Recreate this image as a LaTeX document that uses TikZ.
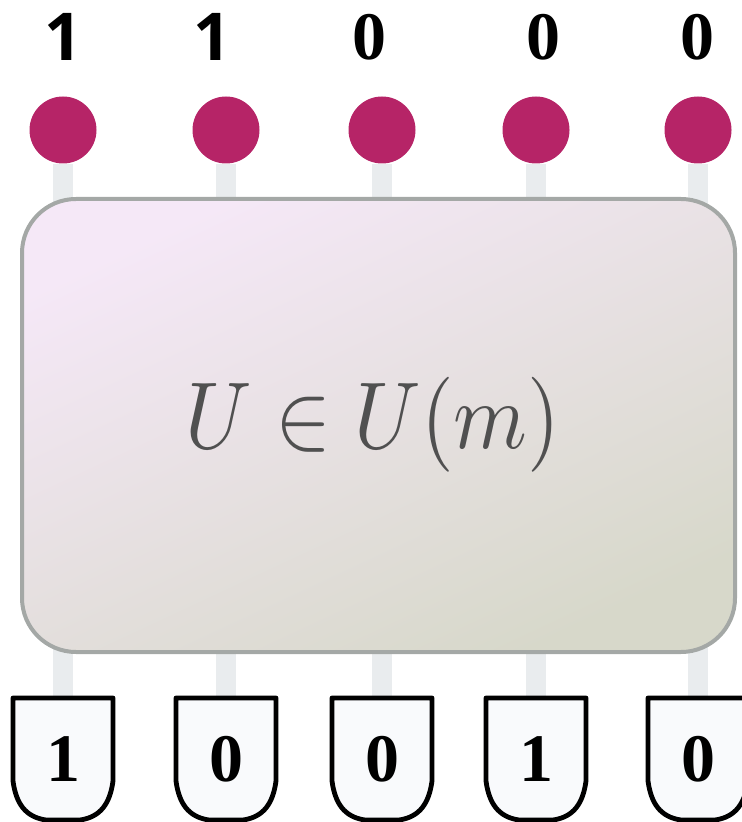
\documentclass[tikz,border=0pt]{standalone}
\usepackage{fontspec}
\newfontfamily\digitsans{Open Sans}
\newfontfamily\digitserif{Liberation Serif}
\usepackage{tikz}
\usetikzlibrary{positioning}

\definecolor{photon}{RGB}{182,36,103}
\definecolor{wiregray}{RGB}{233,236,238}
\definecolor{rimgray}{RGB}{164,168,166}
\definecolor{topshade}{RGB}{245,232,247}
\definecolor{botshade}{RGB}{215,216,202}
\definecolor{textgray}{RGB}{80,80,80}
\definecolor{detfill}{RGB}{249,250,252}

\pgfdeclarelayer{wirelayer}
\pgfdeclarelayer{detlayer}
\pgfsetlayers{wirelayer,detlayer,main}

\begin{document}
\begin{tikzpicture}[
    x=0.5pt, y=-0.5pt,
    source/.style={circle, fill=photon, minimum size=33.5pt, inner sep=0pt},
    unitary/.style={rectangle, rounded corners=27pt, draw=rimgray, line width=2pt, top color=topshade, bottom color=botshade, shading angle=25, minimum width=356.5pt, minimum height=226.5pt},
    eqlabel/.style={text=textgray, inner sep=0pt, xscale=4.2, yscale=4.75},
    detector/.style={minimum width=50pt, minimum height=61pt, inner sep=0pt, font=\digitserif\bfseries\fontsize{34}{36}\selectfont},
    detline/.style={draw=black, fill=detfill, line width=2.4pt, line join=round},
    inlabel/.style={font=\digitserif\bfseries\fontsize{34}{36}\selectfont},
    wire/.style={draw=wiregray, line width=10pt},
]
\useasboundingbox (0,0) rectangle (741,822);

% Interferometer
\node[unitary] (U) at (378.5,425.5) {};
\node[eqlabel] (eq) at (373,425) {$U\in U(m)$};

% Photons in, detectors out
\foreach \i/\cx/\lx/\inp/\outp in {1/63/63/{\digitsans\fontsize{33}{35}\selectfont 1}/1,
                                   2/226/212/{\digitsans\fontsize{33}{35}\selectfont 1}/0,
                                   3/382/369/0/0,
                                   4/536/543/0/1,
                                   5/698/697/0/0}{
  \node[source] (src\i) at (\cx,130) {};
  \node[inlabel] (in\i) at (\lx,37) {\inp};
  \node[detector] (det\i) at (\cx,759) {\outp};
  \begin{pgfonlayer}{detlayer}
    \draw[detline, shift={(det\i.center)}] (-50,-61) -- (50,-61) -- (50,22)
      .. controls (47,44) and (38,58) .. (17,61) -- (-17,61)
      .. controls (-38,58) and (-47,44) .. (-50,22) -- cycle;
  \end{pgfonlayer}
  \begin{pgfonlayer}{wirelayer}
    \draw[wire] (src\i) -- (det\i);
  \end{pgfonlayer}
}

\end{tikzpicture}
\end{document}
